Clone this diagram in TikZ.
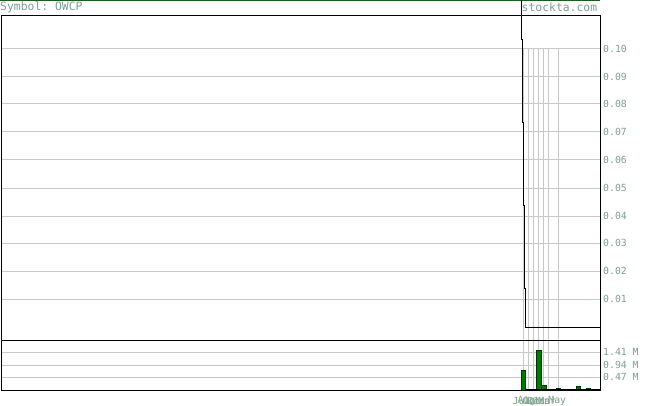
\documentclass[tikz,border=0pt]{standalone}
\usepackage{fontspec}
\setmonofont{DejaVu Sans Mono}
\definecolor{txtc}{HTML}{7FA08F}
\definecolor{gridc}{HTML}{C8C8C8}
\definecolor{barc}{HTML}{007A00}
\definecolor{barline}{HTML}{003300}
\definecolor{topgreen}{HTML}{1A5E1A}
\begin{document}
\begin{tikzpicture}[x=1pt,y=-1pt,
  gridline/.style={draw=gridc,line width=1pt},
  frameline/.style={draw=black,line width=1pt},
  axlabel/.style={text=txtc,font=\ttfamily\fontsize{9.8}{10}\selectfont,inner sep=0pt,anchor=west},
  toplabel/.style={text=txtc,font=\ttfamily\fontsize{11.4}{12}\selectfont,inner sep=0pt,anchor=west},
  monthlabel/.style={text=txtc,font=\ttfamily\fontsize{9.8}{10}\selectfont,inner sep=0pt,anchor=center},
  volbar/.style={fill=barc,draw=barline,line width=0.9pt},
  priceline/.style={draw=black,line width=1pt}]
\useasboundingbox (0,0) rectangle (655,406);
\fill[white] (0,0) rectangle (655,406);
% top green line
\draw[topgreen,line width=1.5pt] (0,0.75) -- (600,0.75);
% horizontal grid, price panel
\foreach \yy in {49,77,104,132,160,188,216,243,271,299}{
  \draw[gridline] (1,\yy) -- (600,\yy);
}
% volume grid
\foreach \yy in {352,365,377}{
  \draw[gridline] (1,\yy) -- (600,\yy);
}
% vertical grid
\foreach \xx in {523,528,533,538,543,548.7,558.7}{
  \draw[gridline] (\xx,49) -- (\xx,390);
}
% price labels
\foreach \yy/\lab [count=\i] in {49/0.10,77/0.09,104/0.08,132/0.07,160/0.06,188/0.05,216/0.04,243/0.03,271/0.02,299/0.01}{
  \node[axlabel] (p\i) at (603,\yy) {\lab};
}
% volume labels
\node[axlabel] (v1) at (603,352) {1.41 M};
\node[axlabel] (v2) at (603,365) {0.94 M};
\node[axlabel] (v3) at (603,377) {0.47 M};
% header labels
\node[toplabel] (sym) at (0,7.5) {Symbol: OWCP};
\node[toplabel] (site) at (521.5,7.5) {stockta.com};
% month labels
\foreach \xx/\lab [count=\i] in {523/Jul,528/Aug,533/Oct,538/Dec,543/Jan,548.7/Mar,558.7/May}{
  \node[monthlabel] (m\i) at (\xx-1.5,400.5) {\lab};
}
% volume bars
\draw[volbar] (521,370) rectangle (525.5,390);
\draw[volbar] (536,350) rectangle (541,390);
\draw[volbar] (541.5,385) rectangle (546,390);
\draw[volbar] (556.7,388) rectangle (560.7,390);
\draw[volbar] (576,386) rectangle (580.7,390);
\draw[volbar] (586,388) rectangle (590.7,390);
\draw[black,line width=1.6pt] (525,389.5) -- (600,389.5);
% frames
\draw[frameline] (1,15.5) rectangle (600,340);
\draw[frameline] (1,340) rectangle (600,390);
% price line
\draw[priceline] (521.5,0) -- (521.5,40) -- (522.3,40) -- (522.3,123) -- (523,123) -- (523,205) -- (524,205) -- (524,288) -- (525,288) -- (525,327) -- (600,327);
\end{tikzpicture}
\end{document}
